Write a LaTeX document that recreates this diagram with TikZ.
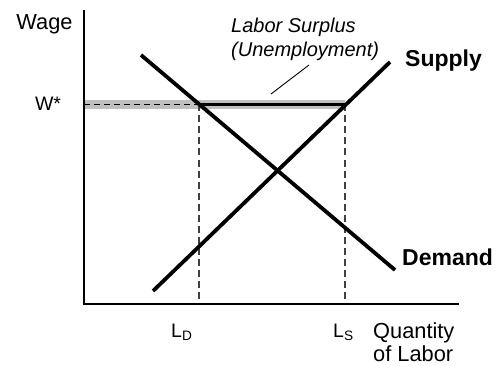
\documentclass[tikz,border=0pt]{standalone}
\usepackage{fontspec}
\setmainfont{Liberation Sans}
\usepackage{tikz}
\usetikzlibrary{positioning}

\begin{document}
\begin{tikzpicture}[x=1pt, y=-1pt, inner sep=0pt,
    axis/.style={line width=2.4pt},
    curve/.style={line width=3.8pt},
    guide/.style={line width=1.2pt, black!75, dash pattern=on 7pt off 4pt},
    lbl/.style={font=\fontsize{21.8}{24}\selectfont},
    tag/.style={font=\bfseries\fontsize{23}{26}\selectfont}]
  \useasboundingbox (0,0) rectangle (497,366);
  % points
  \coordinate (o) at (84,304);
  \coordinate (ytop) at (84,10);
  \coordinate (xend) at (459,304);
  \coordinate (wstar) at (84,104.5);
  \coordinate (ld) at (199,104.5);
  \coordinate (ls) at (345,104.5);
  \coordinate (ldaxis) at (199,304);
  \coordinate (lsaxis) at (345,304);
  \coordinate (dtop) at (141,55);
  \coordinate (dbot) at (395,270);
  \coordinate (sbot) at (153,291);
  \coordinate (stop) at (390,62);
  \coordinate (leadtop) at (309,65);
  \coordinate (leadend) at (271,94);
  % surplus band
  \fill[black!25] (84,100) rectangle (345,109);
  \draw[line width=1.4pt, dash pattern=on 6pt off 4pt] (wstar) -- (ld);
  \draw[line width=2.6pt] (ld) -- (ls);
  \draw[guide] (ld) -- (ldaxis);
  \draw[guide] (ls) -- (lsaxis);
  % axes
  \draw[axis] (ytop) -- (o) -- (xend);
  % curves
  \draw[curve] (dtop) -- (dbot);
  \draw[curve] (sbot) -- (stop);
  \draw[line width=0.9pt] (leadtop) -- (leadend);
  % labels
  \node[lbl, anchor=base] (wage) at (44.5,30) {Wage};
  \node[font=\fontsize{19.5}{22}\selectfont, anchor=base] (wlab) at (48,111) {W*};
  \node[font=\itshape\fontsize{20}{23.5}\selectfont, anchor=north west, align=left] (surplus) at (231,18) {Labor Surplus\\(Unemployment)};
  \node[tag, anchor=base west] (supply) at (405,67) {Supply};
  \node[tag, anchor=base west] (demand) at (402,265) {Demand};
  \node[font=\fontsize{19.5}{22}\selectfont, anchor=base west] (ldlab) at (171,337) {L\textsubscript{D}};
  \node[font=\fontsize{19.5}{22}\selectfont, anchor=base west] (lslab) at (333,337) {L\textsubscript{S}};
  \node[lbl, anchor=base west] (qty) at (373,338) {Quantity};
  \node[lbl, anchor=base west] (oflabor) at (373,361) {of Labor};
\end{tikzpicture}
\end{document}
